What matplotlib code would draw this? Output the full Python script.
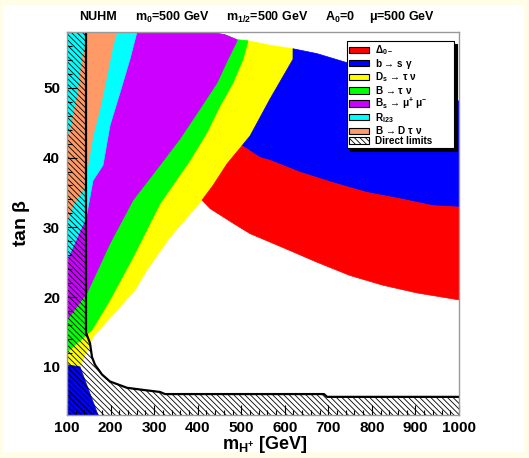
import numpy as np
import matplotlib.pyplot as plt
from matplotlib.patches import Patch, Rectangle
from matplotlib.ticker import MultipleLocator

plt.rcParams['font.family'] = ['Liberation Sans', 'DejaVu Sans']
plt.rcParams['font.weight'] = 'bold'
plt.rcParams['axes.labelweight'] = 'bold'
plt.rcParams['mathtext.fontset'] = 'custom'
plt.rcParams['mathtext.rm'] = 'Liberation Sans'
plt.rcParams['mathtext.bf'] = 'Liberation Sans:bold'
plt.rcParams['mathtext.it'] = 'Liberation Sans:italic'
plt.rcParams['hatch.linewidth'] = 0.6
plt.rcParams['hatch.color'] = 'black'

# ----- plot ranges -----
X_MIN, X_MAX = 100, 1000
Y_MIN, Y_MAX = 3.1, 58

# upper edge of the excluded area (white above it)
top_x = [100, 428, 463, 490, 520, 566, 619, 674, 743, 1000]
top_y = [58, 58, 57.6, 56.9, 56.7, 56.1, 55.6, 54.9, 53.6, 48.1]

# B -> D tau nu band (left and right edges, top to bottom)
btodtn_l_x = [143.6, 141.3, 134.4, 125.3, 113.8, 106.9, 100]
btodtn_l_y = [58, 55.6, 54.1, 49.3, 46.0, 43.6, 43.1]
btodtn_r_x = [214.8, 205.6, 191.8, 175.8, 159.7, 148.2, 143.6, 113.8, 100]
btodtn_r_y = [58, 56.0, 51.7, 47.0, 43.1, 38.9, 36.0, 33.1, 30.6]

# R_l23 edge
rl23_x = [260.7, 244.6, 221.7, 198.7, 182.7, 159.7, 145.9, 143.6, 100]
rl23_y = [58, 54.1, 49.3, 44.6, 38.9, 36.7, 32.0, 31.3, 25.3]

# Bs -> mu mu edge
bsmm_x = [490.3, 469.6, 444.4, 405.4, 359.4, 318.1, 251.5, 198.7, 145.9, 100]
bsmm_y = [56.7, 54.1, 50.7, 47.0, 42.7, 39.3, 33.9, 27.7, 20.6, 16.7]

# B -> tau nu edge
btn_x = [515.6, 504.1, 481.1, 451.3, 421.4, 382.4, 313.5, 251.5, 198.7, 157.4, 100]
btn_y = [56.7, 54.1, 50.7, 47.4, 43.6, 39.6, 33.4, 25.7, 19.6, 15.3, 12.1]

# Ds -> tau nu edge (against b->s gamma, Delta0 and the allowed region)
ds_x = [618.9, 618.9, 566.1, 520.2, 501.8, 467.3, 435.2, 410.0, 389.3,
        336.5, 283.7, 256.1, 159.7, 129.8, 100]
ds_y = [55.6, 54.1, 48.4, 43.1, 41.7, 39.1, 36.0, 33.9, 32.4,
        28.6, 23.9, 21.0, 14.3, 10.0, 10.3]

# Delta0- region
d0_top_x = [501.8, 543.1, 566.1, 635.0, 710.7, 788.8, 864.5, 940.3, 1000]
d0_top_y = [41.7, 40.0, 39.6, 37.9, 36.4, 35.0, 34.1, 33.1, 32.9]
d0_bot_x = [410.0, 428.3, 481.1, 520.2, 595.9, 674.0, 749.7, 825.5, 903.6, 1000]
d0_bot_y = [33.9, 32.7, 30.6, 29.1, 27.1, 25.0, 23.1, 21.7, 20.6, 19.6]
d0_left_x = [501.8, 467.3, 435.2, 410.0]
d0_left_y = [41.7, 39.1, 36.0, 33.9]

# b -> s gamma, low tan beta corner
bsg_low_x = [100, 129.8, 171.2, 100]
bsg_low_y = [10.3, 10.0, Y_MIN, Y_MIN]

# direct search limit
lim_x = [143.6, 143.6, 152.8, 157.4, 164.3, 180.4, 198.7, 237.8, 274.5,
         313.5, 325, 690, 697, 1000]
lim_y = [58, 14.9, 13.4, 11.4, 10.3, 8.9, 7.9, 7.0, 6.7,
         6.4, 6.1, 6.1, 5.7, 5.7]

colors = {'d0': '#ff0000', 'bsg': '#0000ff', 'ds': '#ffff00', 'btn': '#00ff00',
          'bsmm': '#cc00ff', 'rl23': '#00ffff', 'btodtn': '#ff9966'}

HATCH = '\\' * 6


def top_edge(xa, xb):
    xs = [xa] + [x for x in top_x if xa < x < xb] + [xb]
    return [(x, float(np.interp(x, top_x, top_y))) for x in xs]


def poly(ax, pts, c, z=1):
    p = np.array(pts)
    ax.fill(p[:, 0], p[:, 1], facecolor=c, edgecolor=c, lw=0.5, zorder=z)


fig = plt.figure(figsize=(5.29, 4.58), dpi=100)
fig.patch.set_facecolor('#fffde8')
fig.patches.append(Rectangle((3 / 529, 1 - 452 / 458), 521 / 529, 447 / 458,
                             transform=fig.transFigure, facecolor='white',
                             edgecolor='none', zorder=-1))
ax = fig.add_axes([67 / 529, 1 - 415 / 458, 392 / 529, 383 / 458])

corner = [(X_MIN, Y_MAX)]
poly(ax, corner + top_edge(X_MIN, ds_x[0]) + list(zip(ds_x, ds_y)), colors['ds'])
poly(ax, corner + top_edge(X_MIN, btn_x[0]) + list(zip(btn_x, btn_y)), colors['btn'])
poly(ax, corner + top_edge(X_MIN, bsmm_x[0]) + list(zip(bsmm_x, bsmm_y)), colors['bsmm'])
poly(ax, corner + list(zip(rl23_x, rl23_y)), colors['rl23'])
poly(ax, list(zip(btodtn_r_x, btodtn_r_y)) + list(zip(btodtn_l_x, btodtn_l_y))[::-1],
     colors['btodtn'])
poly(ax, list(zip(bsg_low_x, bsg_low_y)), colors['bsg'])
bsg_up = (top_edge(ds_x[0], X_MAX) + list(zip(d0_top_x, d0_top_y))[::-1]
          + list(zip(ds_x[:5], ds_y[:5]))[::-1])
poly(ax, bsg_up, colors['bsg'])
poly(ax, list(zip(d0_top_x, d0_top_y)) + list(zip(d0_bot_x, d0_bot_y))[::-1]
     + list(zip(d0_left_x, d0_left_y))[::-1], colors['d0'])

# direct limits: hatched area left of / below the line
hatch_pts = [(X_MIN, Y_MAX)] + list(zip(lim_x, lim_y)) + [(X_MAX, Y_MIN), (X_MIN, Y_MIN)]
hp = np.array(hatch_pts)
ax.fill(hp[:, 0], hp[:, 1], facecolor='none', edgecolor='black', lw=0,
        hatch=HATCH, zorder=1.5)
ax.plot(lim_x, lim_y, color='black', lw=1.6, zorder=2)

ax.set_xlim(X_MIN, X_MAX)
ax.set_ylim(Y_MIN, Y_MAX)
ax.xaxis.set_major_locator(MultipleLocator(100))
ax.xaxis.set_minor_locator(MultipleLocator(20))
ax.yaxis.set_major_locator(MultipleLocator(10))
ax.yaxis.set_minor_locator(MultipleLocator(2))
ax.tick_params(which='both', direction='in', top=False, right=False,
               color='black', width=0.8, labelsize=11)
ax.tick_params(which='major', length=7)
ax.tick_params(which='minor', length=3.5)
ax.tick_params(axis='x', pad=4)
ax.tick_params(axis='y', pad=5)
for s in ax.spines.values():
    s.set_color('#999999')
    s.set_linewidth(1)
    s.set_zorder(3)

# axis titles
fig.text(265 / 529, 1 - 449 / 458, r'm$_{\mathbf{H^{+}}}$ [GeV]', fontsize=13,
         ha='center', va='baseline')
ax.set_ylabel(r'tan $\mathrm{\beta}$', fontsize=14, labelpad=8)

# title line
title_parts = ['NUHM', r'm$_\mathbf{0}$=500 GeV', r'm$_\mathbf{1/2}$=500 GeV',
               r'A$_\mathbf{0}$=0', r'$\mathrm{\mu}$=500 GeV']
title_px = [98, 173, 267, 340, 402]
for t, xp in zip(title_parts, title_px):
    fig.text(xp / 529, 1 - 17 / 458, t, ha='center', va='center', fontsize=9)

# legend
leg_labels = [r'$\mathrm{\Delta_{0-}}$',
              r'b → s $\mathrm{\gamma}$',
              r'D$_\mathbf{s}$ → $\mathrm{\tau}$ $\mathrm{\nu}$',
              r'B → $\mathrm{\tau}$ $\mathrm{\nu}$',
              r'B$_\mathbf{s}$ → $\mathrm{\mu^{+}}$ $\mathrm{\mu^{-}}$',
              r'R$_\mathbf{l23}$',
              r'B → D $\mathrm{\tau}$ $\mathrm{\nu}$',
              'Direct limits']
leg_keys = ['d0', 'bsg', 'ds', 'btn', 'bsmm', 'rl23', 'btodtn']
handles = [Patch(facecolor=colors[k], edgecolor='black', lw=0.8) for k in leg_keys]
handles.append(Patch(facecolor='white', edgecolor='black', lw=0.8, hatch=HATCH))
leg = ax.legend(handles, leg_labels, loc='upper left',
                bbox_to_anchor=(0.714, 0.723, 0.273, 0.254), mode='expand',
                fontsize=7.2, frameon=True, fancybox=False,
                shadow={'color': 'black', 'alpha': 1},
                borderpad=0.25, labelspacing=-0.03, handlelength=2.0,
                handleheight=0.6, handletextpad=0.6, borderaxespad=0)
leg.get_frame().set_edgecolor('black')
leg.get_frame().set_linewidth(0.8)
leg.set_zorder(5)

fig.savefig('out.png', dpi=100, facecolor=fig.get_facecolor())
